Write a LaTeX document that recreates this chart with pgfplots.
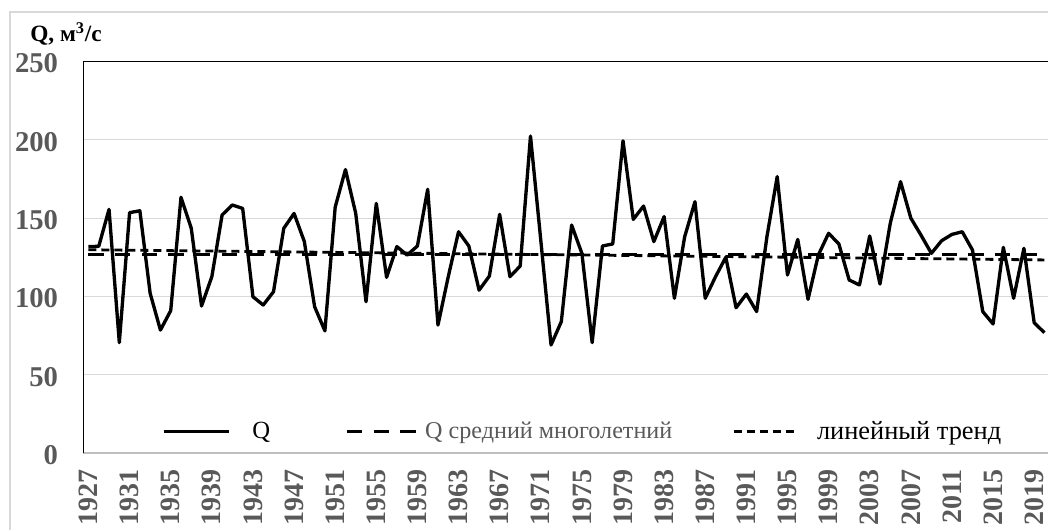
\documentclass[border=0pt]{standalone}
\usepackage{pgfplots}
\usepackage{pgfplotstable}
\pgfplotsset{compat=1.18}
\usepackage{fontspec}
\setmainfont{Liberation Serif}
\definecolor{tickgray}{HTML}{595959}
\definecolor{gridgray}{HTML}{D9D9D9}
\definecolor{axgray}{HTML}{BFBFBF}
\pgfplotstableread{
year q
1927 131.8
1928 132.0
1929 155.6
1930 70.5
1931 153.5
1932 154.7
1933 102.0
1934 78.5
1935 90.9
1936 163.3
1937 143.5
1938 93.9
1939 112.6
1940 152.0
1941 158.4
1942 156.2
1943 99.8
1944 94.5
1945 103.0
1946 143.5
1947 153.0
1948 135.0
1949 93.4
1950 78.0
1951 157.0
1952 181.0
1953 153.0
1954 96.6
1955 159.4
1956 112.2
1957 131.8
1958 126.4
1959 132.2
1960 168.4
1961 81.7
1962 112.6
1963 141.3
1964 132.2
1965 104.0
1966 113.0
1967 152.4
1968 112.6
1969 119.4
1970 202.4
1971 136.0
1972 69.0
1973 83.9
1974 145.6
1975 127.5
1976 70.5
1977 132.2
1978 133.5
1979 199.4
1980 149.2
1981 157.7
1982 135.0
1983 151.0
1984 98.8
1985 138.1
1986 160.5
1987 98.8
1988 112.6
1989 125.0
1990 92.8
1991 101.5
1992 90.3
1993 138.1
1994 176.5
1995 113.7
1996 136.4
1997 98.1
1998 126.4
1999 140.3
2000 133.5
2001 110.5
2002 107.3
2003 138.6
2004 107.9
2005 146.7
2006 173.3
2007 150.0
2008 139.0
2009 127.5
2010 135.6
2011 139.6
2012 141.3
2013 129.6
2014 90.3
2015 82.4
2016 131.3
2017 98.8
2018 130.7
2019 83.2
2020 76.8
}\qdata
\begin{document}
\begin{tikzpicture}
\useasboundingbox (-62.5pt,-57pt) rectangle (723.5pt,339.75pt);
\begin{scope}
\clip (-62.5pt,-57pt) rectangle (723.5pt,339.75pt);
\draw[gridgray, line width=1pt] (-55pt,-120pt) rectangle (820pt,330.75pt);
\begin{axis}[
  name=ax, at={(0pt,0pt)}, anchor=south west,
  scale only axis, width=724.7pt, height=293.6pt,
  xmin=1926.5, xmax=2020.5, ymin=0, ymax=250,
  axis line style={draw=none},
  major tick length=0pt, tick style={draw=none},
  ytick={0,50,100,150,200,250},
  yticklabels={0,50,100,150,200,250},
  xtick={1927,1931,1935,1939,1943,1947,1951,1955,1959,1963,1967,1971,1975,1979,1983,1987,1991,1995,1999,2003,2007,2011,2015,2019},
  xticklabels={1927,1931,1935,1939,1943,1947,1951,1955,1959,1963,1967,1971,1975,1979,1983,1987,1991,1995,1999,2003,2007,2011,2015,2019},
  ymajorgrids, grid style={gridgray, line width=0.9pt},
  tick label style={text=tickgray, inner sep=0pt},
  yticklabel style={font=\fontsize{21.5}{24}\selectfont\bfseries, anchor=east, yshift=-1.5pt},
  xticklabel style={font=\fontsize{21}{23}\selectfont\bfseries, rotate=90, anchor=east},
  yticklabel shift=18.75pt, xticklabel shift=12pt,
  legend columns=3,
  legend style={at={(0.0815,0.0545)}, anchor=west, draw=none, fill=none,
    inner sep=0pt, outer sep=0pt, nodes={inner sep=0pt},
    /tikz/column 1/.style={column sep=16.5pt},
    /tikz/column 2/.style={column sep=56.25pt},
    /tikz/column 3/.style={column sep=5pt},
    /tikz/column 4/.style={column sep=45pt},
    /tikz/column 5/.style={column sep=15pt}},
]
\addplot[black, line width=2.5pt, line join=round, mark=none,
  legend image code/.code={\draw[black, line width=2.5pt] (0pt,0pt) -- (48.75pt,0pt);}]
  table[x=year, y=q]{\qdata};
\addlegendentry{\fontsize{18.5}{20}\selectfont Q}
\addplot[black, line width=2.5pt, dash pattern=on 11.5pt off 8.5pt, mark=none,
  legend image code/.code={\draw[black, line width=2.5pt, dash pattern=on 11.5pt off 8.5pt] (0pt,0pt) -- (52.5pt,0pt);}]
  coordinates {(1927,126.6) (2020,126.6)};
\addlegendentry{\fontsize{18.1}{20}\selectfont\color{tickgray}Q средний многолетний}
\addplot[black, line width=2.1pt, dash pattern=on 6pt off 3.75pt, mark=none,
  legend image code/.code={\draw[black, line width=2.1pt, dash pattern=on 6pt off 3.75pt] (0pt,0pt) -- (46.5pt,0pt);}]
  coordinates {(1927,129.8) (2020,123.3)};
\addlegendentry{\fontsize{19.8}{22}\selectfont линейный тренд}
\end{axis}
\draw[axgray, line width=1.2pt] (ax.south west) -- (ax.south east);
\draw[black, line width=1pt] (ax.south west) -- (ax.north west) -- (ax.north east);
\node[anchor=base west, inner sep=0pt, font=\fontsize{17.5}{19}\selectfont\bfseries]
  at ([xshift=-40pt, yshift=308.5pt]ax.south west) {Q, м\textsuperscript{3}/с};
\end{scope}
\end{tikzpicture}
\end{document}
